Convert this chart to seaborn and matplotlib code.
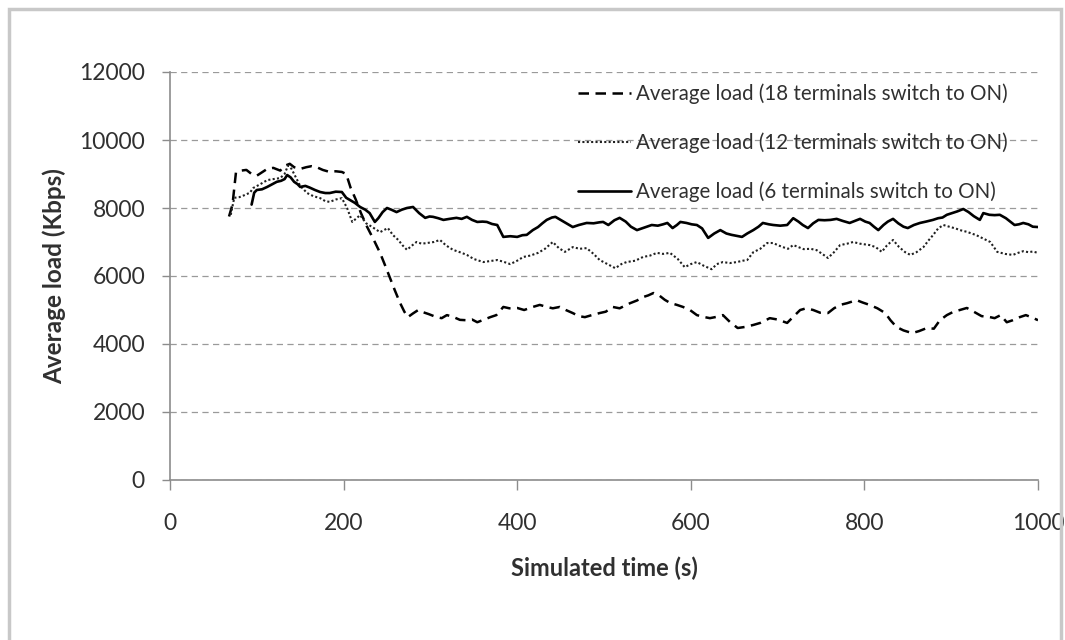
import matplotlib
matplotlib.use("Agg")
import matplotlib.pyplot as plt
import seaborn as sns
import numpy as np
from matplotlib.patches import Rectangle

# ---------------- data ----------------
t18 = [68, 72, 76, 82, 88, 94, 100, 106, 112, 119, 127, 133, 138, 143, 150, 157, 163, 169, 176, 184,
       191, 198, 203, 208, 214, 220, 227, 235, 242, 248, 253, 259, 265, 270, 274, 280, 286, 291, 298, 307,
       313, 319, 326, 334, 341, 348, 354, 360, 369, 376, 384, 391, 400, 408, 418, 426, 434, 441, 449, 456,
       464, 471, 478, 486, 495, 502, 510, 518, 530, 538, 545, 551, 557, 564, 570, 576, 584, 591, 599, 607,
       614, 622, 630, 637, 645, 654, 662, 672, 680, 691, 700, 711, 718, 726, 733, 741, 749, 758, 765, 772,
       780, 791, 798, 806, 815, 824, 830, 837, 845, 855, 863, 872, 880, 887, 895, 902, 910, 918, 926, 935,
       943, 950, 957, 964, 971, 979, 986, 994, 1000]
load18 = [7750, 8100, 9050, 9100, 9120, 9000, 8950, 9050, 9150, 9180, 9100, 9250, 9300, 9200, 9150, 9200, 9230, 9200, 9120, 9060,
          9080, 9060, 9000, 8600, 8250, 7850, 7450, 7050, 6680, 6300, 5970, 5580, 5210, 4950, 4790, 4900, 5000, 4940, 4880, 4790,
          4760, 4850, 4800, 4710, 4700, 4720, 4640, 4700, 4790, 4850, 5090, 5050, 5060, 5000, 5090, 5150, 5090, 5050, 5090, 5000,
          4910, 4820, 4790, 4850, 4910, 4950, 5090, 5050, 5200, 5280, 5380, 5430, 5500, 5420, 5300, 5210, 5150, 5090, 5000, 4850,
          4800, 4760, 4800, 4850, 4650, 4470, 4500, 4560, 4620, 4760, 4720, 4620, 4800, 5000, 5050, 5000, 4920, 4910, 5050, 5150,
          5200, 5290, 5220, 5150, 5050, 4910, 4700, 4500, 4400, 4320, 4380, 4470, 4450, 4700, 4850, 4940, 5000, 5060, 4950, 4820,
          4800, 4760, 4850, 4640, 4700, 4790, 4850, 4770, 4700]

t12 = [70, 74, 80, 86, 92, 96, 104, 112, 119, 127, 132, 136, 140, 145, 150, 158, 165, 173, 179, 184,
       191, 198, 204, 210, 215, 219, 226, 233, 242, 251, 257, 263, 268, 273, 279, 284, 290, 296, 304, 311,
       318, 326, 334, 342, 350, 361, 369, 377, 384, 392, 400, 407, 415, 424, 432, 441, 448, 455, 464, 472,
       480, 488, 495, 504, 513, 520, 526, 536, 545, 553, 561, 568, 576, 585, 593, 600, 607, 615, 624, 630,
       637, 645, 653, 660, 665, 672, 680, 688, 695, 700, 706, 712, 718, 724, 730, 738, 745, 752, 758, 765,
       772, 780, 787, 795, 806, 813, 820, 826, 833, 840, 847, 853, 860, 868, 874, 879, 885, 891, 899, 905,
       910, 918, 929, 937, 945, 953, 962, 971, 977, 983, 989, 994, 1000]
load12 = [7800, 8300, 8320, 8380, 8450, 8590, 8700, 8820, 8850, 8880, 9000, 9250, 9150, 8900, 8650, 8440, 8350, 8290, 8200, 8180,
          8250, 8290, 8000, 7590, 7700, 7790, 7550, 7440, 7290, 7410, 7200, 7060, 6900, 6770, 6900, 7000, 6950, 6970, 7000, 7060,
          6900, 6770, 6700, 6620, 6500, 6410, 6440, 6470, 6420, 6350, 6450, 6560, 6600, 6680, 6800, 7000, 6820, 6710, 6850, 6800,
          6820, 6650, 6470, 6350, 6230, 6350, 6410, 6450, 6560, 6600, 6680, 6650, 6680, 6500, 6260, 6350, 6410, 6300, 6200, 6350,
          6410, 6380, 6410, 6450, 6470, 6700, 6800, 6970, 6970, 6910, 6850, 6800, 6910, 6850, 6790, 6800, 6760, 6640, 6530, 6700,
          6910, 6950, 7000, 6950, 6910, 6850, 6710, 6900, 7060, 6850, 6700, 6620, 6700, 6850, 7050, 7200, 7400, 7500, 7440, 7400,
          7350, 7300, 7200, 7100, 7000, 6710, 6650, 6620, 6680, 6730, 6700, 6720, 6680]

t6 = [94, 97, 100, 106, 112, 118, 123, 128, 132, 135, 139, 143, 147, 150, 156, 161, 167, 173, 179, 184,
      191, 198, 203, 207, 213, 219, 225, 230, 236, 240, 245, 250, 255, 261, 267, 273, 280, 287, 294, 299,
      303, 309, 315, 322, 330, 336, 342, 348, 354, 360, 365, 371, 377, 384, 392, 400, 406, 411, 418, 424,
      429, 434, 440, 444, 450, 456, 464, 471, 480, 488, 495, 499, 505, 512, 518, 525, 531, 538, 546, 555,
      562, 568, 573, 579, 584, 588, 595, 601, 607, 613, 620, 627, 634, 641, 647, 653, 659, 665, 672, 678,
      683, 690, 695, 703, 711, 718, 724, 729, 735, 741, 747, 754, 761, 768, 775, 783, 789, 795, 801, 806,
      811, 816, 822, 827, 833, 839, 845, 850, 857, 864, 871, 879, 885, 890, 895, 901, 907, 914, 920, 926,
      933, 937, 944, 950, 956, 963, 968, 973, 978, 983, 989, 994, 1000]
load6 = [8100, 8450, 8530, 8550, 8620, 8700, 8770, 8800, 8850, 8970, 8900, 8770, 8700, 8620, 8650, 8600, 8530, 8470, 8440, 8440,
         8480, 8470, 8300, 8240, 8150, 8030, 7950, 7850, 7590, 7700, 7880, 8000, 7950, 7880, 7950, 8000, 8030, 7850, 7710, 7750,
         7740, 7700, 7650, 7680, 7710, 7680, 7740, 7650, 7590, 7600, 7590, 7530, 7500, 7150, 7170, 7150, 7200, 7210, 7350, 7440,
         7550, 7650, 7720, 7740, 7650, 7560, 7440, 7500, 7560, 7550, 7580, 7590, 7500, 7640, 7710, 7600, 7450, 7350, 7420, 7500,
         7480, 7520, 7560, 7410, 7500, 7590, 7560, 7520, 7500, 7400, 7120, 7250, 7350, 7250, 7210, 7180, 7150, 7250, 7350, 7450,
         7560, 7520, 7500, 7480, 7500, 7700, 7600, 7500, 7410, 7550, 7650, 7640, 7650, 7680, 7620, 7560, 7620, 7680, 7600, 7560,
         7450, 7350, 7500, 7600, 7680, 7550, 7450, 7410, 7500, 7560, 7600, 7650, 7700, 7720, 7800, 7850, 7900, 7970, 7880, 7760,
         7650, 7850, 7800, 7790, 7800, 7700, 7600, 7500, 7520, 7560, 7520, 7450, 7440]

labels = ["Average load (18 terminals switch to ON)",
          "Average load (12 terminals switch to ON)",
          "Average load (6 terminals switch to ON)"]
x_ticks = [0, 200, 400, 600, 800, 1000]
y_ticks = [0, 2000, 4000, 6000, 8000, 10000, 12000]

# ---------------- style ----------------
sns.set_theme(style="white")
plt.rcParams["font.family"] = ["Lato", "DejaVu Sans"]
TXT = "#303030"
AX = "#8c8c8c"

fig = plt.figure(figsize=(10.65, 6.4), dpi=100)
ax = fig.add_axes([170 / 1065, 1 - 480 / 640, (1038 - 170) / 1065, (480 - 72) / 640])

sns.lineplot(x=t18, y=load18, ax=ax, color="black", lw=1.8,
             linestyle=(0, (4.2, 2.6)), label=labels[0])
sns.lineplot(x=t12, y=load12, ax=ax, color="#202020", lw=1.5,
             linestyle=(0, (1, 1.1)), label=labels[1])
sns.lineplot(x=t6, y=load6, ax=ax, color="black", lw=1.9,
             linestyle="-", label=labels[2])

ax.set_xlim(0, 1000)
ax.set_ylim(0, 12000)
ax.set_xticks(x_ticks)
ax.set_yticks(y_ticks)
ax.set_xticklabels([str(v) for v in x_ticks])
ax.set_yticklabels([str(v) for v in y_ticks])

ax.yaxis.grid(True, color="#9a9a9a", lw=0.9, linestyle=(0, (5, 3.5)))
ax.xaxis.grid(False)
ax.set_axisbelow(True)

for s in ["top", "right"]:
    ax.spines[s].set_visible(False)
for s in ["left", "bottom"]:
    ax.spines[s].set_color(AX)
    ax.spines[s].set_linewidth(1.2)

ax.tick_params(axis="y", which="major", left=True, length=6, width=1.0, color=AX,
               pad=12, labelsize=16.5, labelcolor=TXT)
ax.tick_params(axis="x", which="major", bottom=True, length=7, width=1.0, color=AX,
               pad=17, labelsize=16.5, labelcolor=TXT)

ax.set_xlabel("Simulated time (s)", fontsize=17, fontweight="bold", color=TXT, labelpad=16)
ax.set_ylabel("Average load (Kbps)", fontsize=17.5, fontweight="bold", color=TXT, labelpad=9)

leg = ax.legend(loc="upper left", bbox_to_anchor=(0.47, 0.972), frameon=False,
                fontsize=14.8, handlelength=2.6, handletextpad=0.2,
                labelspacing=1.38, borderpad=0, borderaxespad=0)
for txt in leg.get_texts():
    txt.set_color(TXT)

# chart area border
fig.patches.append(Rectangle((9 / 1065, -0.05), (1061 - 9) / 1065, 1.05 - 9 / 640,
                             transform=fig.transFigure, fill=False,
                             edgecolor="#c8c8c8", lw=2.5, zorder=0))

fig.savefig("out.png", dpi=100)
